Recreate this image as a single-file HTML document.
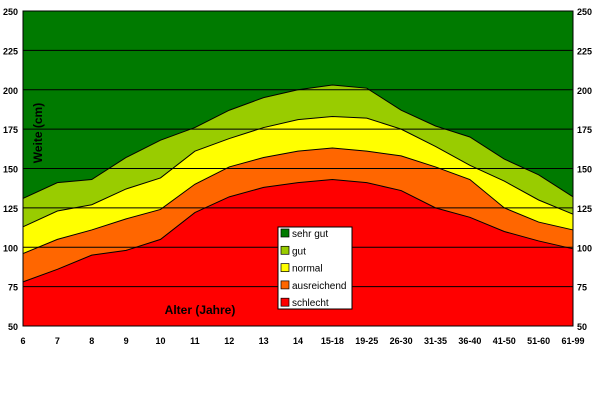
<!DOCTYPE html>
<html><head><meta charset="utf-8"><style>
body{margin:0;background:#fff;width:600px;height:400px;overflow:hidden}
svg text{font-family:"Liberation Sans",Arial,sans-serif}
</style></head><body>
<svg id="chart" width="600" height="400" xmlns="http://www.w3.org/2000/svg"></svg>
<script>
const categories=["6","7","8","9","10","11","12","13","14","15-18","19-25","26-30","31-35","36-40","41-50","51-60","61-99"];
const schlecht=[78,86,95,98,105,122,132,138,141,143,141,136,125,119,110,104,99];
const ausreichend=[96,105,111,118,124,140,151,157,161,163,161,158,151,143,125,116,111];
const normal=[113,123,127,137,144,161,169,176,181,183,182,175,164,152,142,130,121];
const gut=[131,141,143,157,168,176,187,195,200,203,201,187,177,170,156,146,132];
const sehrGut=[250,250,250,250,250,250,250,250,250,250,250,250,250,250,250,250,250];
const yTicks=[50,75,100,125,150,175,200,225,250];
const seriesNames=["sehr gut","gut","normal","ausreichend","schlecht"];

const NS="http://www.w3.org/2000/svg";
const svg=document.getElementById('chart');
const X0=23,X1=573,Y0=326,Y1=11;
const x=i=>X0+i*(X1-X0)/(categories.length-1);
const y=v=>Y0-(v-50)*(Y0-Y1)/200;
function mk(tag,attrs){const e=document.createElementNS(NS,tag);for(const k in attrs)e.setAttribute(k,attrs[k]);svg.appendChild(e);return e;}

const layers=[[sehrGut,"#007a00","sehr-gut"],[gut,"#99cc00","gut"],[normal,"#ffff00","normal"],[ausreichend,"#ff6600","ausreichend"],[schlecht,"#ff0000","schlecht"]];
layers.forEach(([d,c,n])=>{
  let p=`M${x(0)},${y(50)} `+d.map((v,i)=>`L${x(i)},${y(v)}`).join(' ')+` L${x(d.length-1)},${y(50)} Z`;
  const e=mk('path',{d:p,fill:c,stroke:'none'});
  
  
});
yTicks.forEach(t=>{
  const g=mk('line',{x1:X0,x2:X1,y1:y(t),y2:y(t),stroke:'#000','stroke-width':1});
  
  
  [[4,'start'],[578,'start']].forEach(([tx,a],k)=>{
    const tl=mk('text',{x:k?X1+4:X0-5,y:y(t)+4,'font-size':9,'font-weight':'bold','text-anchor':k?'start':'end'});
    tl.textContent=t;
    
    
  });
});
layers.slice(1).forEach(([d,c,n])=>{
  const e=mk('polyline',{points:d.map((v,i)=>x(i)+','+y(v)).join(' '),fill:'none',stroke:'#000','stroke-width':1});
  
  
});
mk('rect',{x:X0,y:Y1,width:X1-X0,height:Y0-Y1,fill:'none',stroke:'#000','stroke-width':1});
categories.forEach((c,i)=>{
  const t=mk('text',{x:x(i),y:344,'font-size':9,'font-weight':'bold','text-anchor':'middle'});
  t.textContent=c;
  
  
});
const xt=mk('text',{x:200,y:314,'font-size':12,'font-weight':'bold','text-anchor':'middle'});
xt.textContent="Alter (Jahre)";


const yt=mk('text',{x:0,y:0,'font-size':12,'font-weight':'bold','text-anchor':'middle',transform:'translate(42,133) rotate(-90)'});
yt.textContent="Weite (cm)";


const lg=mk('rect',{x:278,y:227,width:74,height:82,fill:'#fff',stroke:'#000','stroke-width':1});


seriesNames.forEach((n,i)=>{
  const yy=233+i*17.3;
  const s=mk('rect',{x:281,y:yy-4,width:8,height:8,fill:layers[i][1],stroke:'#000','stroke-width':0.7});
  
  
  const t=mk('text',{x:292,y:yy+4,'font-size':10});
  t.textContent=n;
  
  
});
</script>
</body></html>
